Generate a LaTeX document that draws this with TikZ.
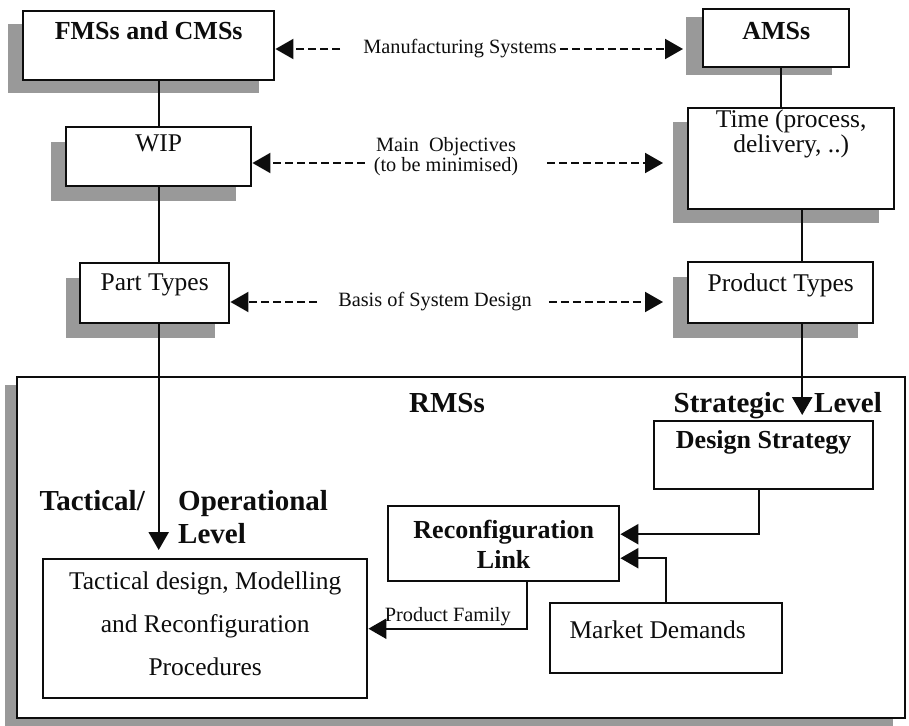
\documentclass[tikz,border=0pt]{standalone}
\usepackage{fontspec}
\setmainfont{Liberation Serif}
\usetikzlibrary{arrows.meta,calc,shadows}
\definecolor{RmsInk}{gray}{0.05}
\definecolor{RmsShade}{gray}{0.6}
\tikzset{
    rms/diagram/.style={
        x=1pt, y=-1pt,
        draw=RmsInk,
        text=RmsInk,
        line width=2.4pt
    },
    rms/box/.style={
        draw=RmsInk, fill=white, line width=2.4pt,
        inner sep=0pt, anchor=north west,
        font=\fontsize{25.5}{25.5}\selectfont
    },
    rms/boldbox/.style={rms/box, font=\fontsize{26}{30}\selectfont\bfseries},
    rms/shade/.style 2 args={
        drop shadow={shadow xshift=#1, shadow yshift=#2,
                     fill=RmsShade, opacity=1}
    },
    rms/link/.style={draw=RmsInk, line width=2.4pt},
    rms/flow/.style={rms/link, -{Triangle[length=18pt, width=20pt]}},
    rms/relation/.style={
        draw=RmsInk, line width=2pt, dash pattern=on 8pt off 4pt,
        -{Triangle[length=18pt, width=20pt]}
    },
    rms/note/.style={font=\fontsize{20.3}{20}\selectfont, inner sep=0pt},
    rms/level/.style={font=\fontsize{29}{33}\selectfont\bfseries, inner sep=0pt}
}

\begin{document}
\begin{tikzpicture}[rms/diagram]
    \useasboundingbox (0,0) rectangle (909,725);
    \node[rms/box, rms/shade={-12pt}{-8pt}, minimum width=888pt, minimum height=341pt] (rms) at (16,376) {};
    \node[rms/boldbox, rms/shade={-15pt}{-13pt}, minimum width=251pt,
          text height=28pt, text depth=41pt] (fms) at (22,10) {FMSs and CMSs};
    \node[rms/boldbox, rms/shade={-17pt}{-8pt}, minimum width=146pt,
          text height=30pt, text depth=28pt] (ams) at (702,8) {AMSs};
    \node[rms/box, rms/shade={-15pt}{-15pt}, minimum width=185pt,
          text height=24pt, text depth=35pt] (wip) at (65,126) {WIP};
    \node[rms/box, rms/shade={-15pt}{-14pt}, minimum width=206pt,
          text height=19pt, text depth=82pt] (time) at (687,107)
          {\begin{tabular}[t]{@{}c@{}}Time (process,\\delivery, ..)\end{tabular}};
    \node[rms/box, rms/shade={-14pt}{-15pt}, minimum width=149pt,
          text height=27pt, text depth=33pt] (part) at (79,262) {Part Types};
    \node[rms/box, rms/shade={-15pt}{-15pt}, minimum width=185pt,
          text height=29pt, text depth=32pt] (prod) at (687,261) {Product Types};
    \node[rms/boldbox, minimum width=219pt,
          text height=27pt, text depth=41pt] (ds) at (653,420) {Design Strategy};
    \node[rms/boldbox, minimum width=231pt,
          text height=32pt, text depth=43pt] (rec) at (387,505)
          {\begin{tabular}[t]{@{}c@{}}Reconfiguration\\Link\end{tabular}};
    \node[rms/box, minimum width=232pt,
          text height=35pt, text depth=35pt] (md) at (549,602) {Market Demands\hspace*{17pt}};
    \node[rms/box, font=\fontsize{25.5}{43}\selectfont, minimum width=324pt,
          text height=30pt, text depth=109pt] (tac) at (42,558)
          {\begin{tabular}[t]{@{}c@{}}Tactical design, Modelling\\and Reconfiguration\\Procedures\end{tabular}};

    \node[rms/note] (mfg) at (460,49) {Manufacturing Systems};
    \node[rms/note, align=center] (obj) at (446,157) {Main\ \ Objectives\\(to be minimised)};
    \node[rms/note] (basis) at (435,302) {Basis of System Design};

    \node[rms/level, anchor=base] (rmslabel) at (447,412) {RMSs};
    \node[rms/level, anchor=base east] (strat) at (786,412) {Strategic};
    \node[rms/level, anchor=base west] (stratlvl) at (813,412) {Level};
    \node[rms/level, anchor=base east] (tact) at (146,510) {Tactical/};
    \node[rms/level, anchor=base west] (oper) at (177,510) {Operational};
    \node[rms/level, anchor=base west] (operlvl) at (177,543) {Level};

    \coordinate (amsdrop) at ($(ams.south)+(5,0)$);
    \coordinate (timedrop) at ($(time.south)+(11,0)$);

    \draw[rms/link] (wip.north |- fms.south) -- (wip.north);
    \draw[rms/link] (wip.south) -- (wip.south |- part.north);
    \draw[rms/flow] (wip.south |- part.south) -- ($(wip.south |- tac.north)+(0,-8)$);
    \draw[rms/link] (amsdrop) -- (amsdrop |- time.north);
    \draw[rms/link] (timedrop) -- (timedrop |- prod.north);
    \draw[rms/flow] (timedrop |- prod.south) -- ($(timedrop |- ds.north)+(0,-5)$);
    \draw[rms/flow] ($(ds.south)+(-5,0)$) |- ($(rec.east)+(0,-9.5)$);
    \draw[rms/flow] (md.north) |- ($(rec.east)+(0,14.5)$);
    \draw[rms/flow] ($(rec.south)+(23.5,0)$) |- (tac.east)
        node[rms/note, pos=0.75, above=2pt] {Product Family};

    \draw[rms/relation] ($(mfg.west)+(-22,0)$) -- (mfg.west -| fms.east);
    \draw[rms/relation] ($(mfg.east)+(2,0)$) -- ($(mfg.east -| ams.west)+(-19,0)$);
    \draw[rms/relation] ($(obj.west)+(-8,6)$) -- ($(obj.west -| wip.east)+(0,6)$);
    \draw[rms/relation] ($(obj.east)+(28,6)$) -- ($(obj.east -| time.west)+(-24,6)$);
    \draw[rms/relation] ($(basis.west)+(-20,0)$) -- (basis.west -| part.east);
    \draw[rms/relation] ($(basis.east)+(16,0)$) -- ($(basis.east -| prod.west)+(-24,0)$);
\end{tikzpicture}
\end{document}
